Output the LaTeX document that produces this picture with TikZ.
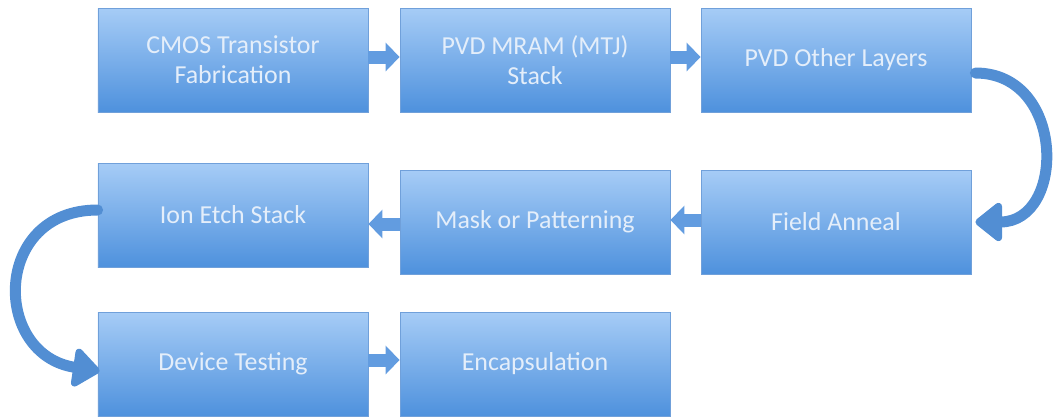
\documentclass[tikz,border=0pt]{standalone}
\usepackage{fontspec}
\setmainfont{Carlito}
\usepackage{tikz}
\usetikzlibrary{arrows.meta}
\definecolor{boxtop}{RGB}{166,204,246}
\definecolor{boxbottom}{RGB}{78,145,221}
\definecolor{boxline}{RGB}{112,160,218}
\definecolor{boxtext}{RGB}{228,238,250}
\definecolor{linkblue}{RGB}{98,156,224}
\definecolor{bendblue}{RGB}{82,142,211}
\tikzset{
  procbox/.style = {rectangle, draw=boxline, line width=0.8bp, top color=boxtop,
    bottom color=boxbottom, minimum width=270bp, minimum height=104bp,
    align=center, text=boxtext, font=\fontsize{26}{30}\selectfont},
  linkarrow/.style = {draw=linkblue, line width=13bp,
    -{Triangle[width=28bp,length=14bp]}},% short arrow between two boxes
  bendarrow/.style = {draw=bendblue, line width=11bp, line cap=round,
    -{Triangle[width=44bp,length=29bp,round]}},% bent arrow to the next row
}
\begin{document}
\begin{tikzpicture}[x=1bp, y=-1bp]
\useasboundingbox (0,0) rectangle (1057,417);
\node [procbox] (cmos) at (233,60) {CMOS Transistor\\Fabrication};
\node [procbox] (mram) at (535,60) {PVD MRAM (MTJ)\\Stack};
\node [procbox] (other) at (836,60) {PVD Other Layers};
\node [procbox] (anneal) at (836,222) {Field Anneal};
\node [procbox] (mask) at (535,222) {Mask or Patterning};
\node [procbox] (etch) at (233,215) {Ion Etch Stack};
\node [procbox] (test) at (233,364) {Device Testing};
\node [procbox] (encap) at (535,364) {Encapsulation};

\draw [linkarrow] ([yshift=3bp]cmos.east) -- ([yshift=3bp]mram.west);
\draw [linkarrow] ([yshift=3bp]mram.east) -- ([yshift=3bp]other.west);
\draw [linkarrow] ([yshift=2bp]anneal.west) -- ([yshift=2bp]mask.east);
\draw [linkarrow] ([yshift=-2bp]mask.west) -- ([yshift=-2bp]mask.west -| etch.east);
\draw [linkarrow] ([yshift=4bp]test.east) -- ([yshift=4bp]encap.west);

% bent arrows from one row to the next
\draw [bendarrow] ([xshift=4bp,yshift=-13bp]other.east)
  .. controls (1066,73) and (1066,222) .. ([xshift=4bp]anneal.east);
\draw [bendarrow] ([yshift=5bp]etch.west)
  .. controls (-8,210) and (-8,355) .. ([xshift=2bp,yshift=-7bp]test.west);
\end{tikzpicture}
\end{document}
